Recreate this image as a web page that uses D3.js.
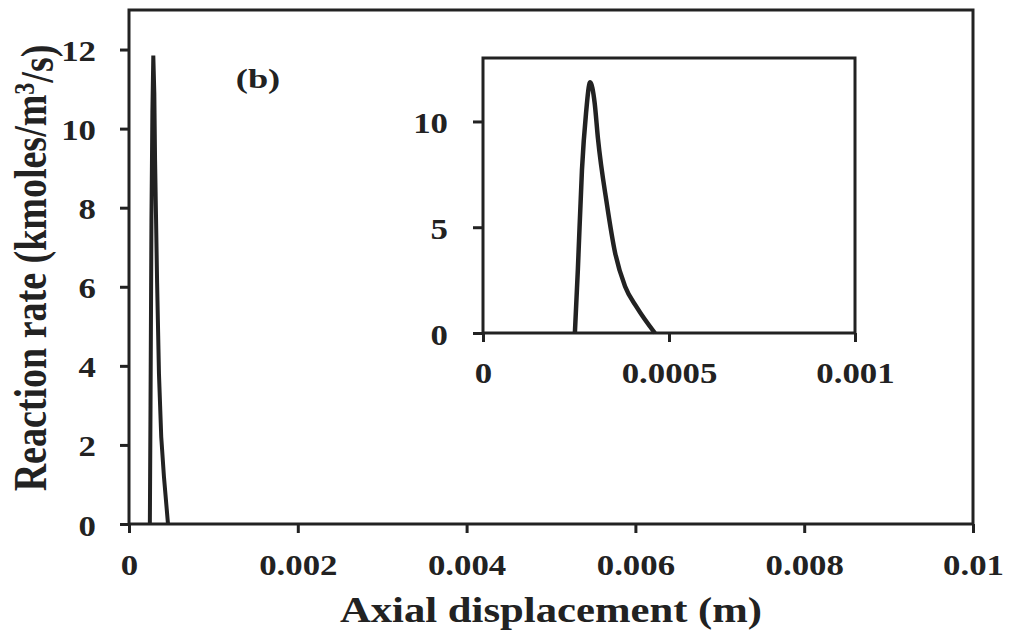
<!DOCTYPE html>
<html>
<head>
<meta charset="utf-8">
<script src="https://cdn.jsdelivr.net/npm/d3@7"></script>
<style>
  html, body { margin: 0; padding: 0; background: #fff; }
  svg { display: block; }
  text { font-family: "Liberation Serif", "Times New Roman", serif; font-weight: bold; fill: #222; }
</style>
</head>
<body>
<svg id="chart" width="1011" height="635"></svg>
<script>
// ---- data ----
const axialX = [0.000247, 0.000255, 0.000266, 0.000277, 0.000288, 0.000300, 0.000309, 0.000333, 0.000355, 0.000382, 0.000414, 0.000462];
const rateY  = [0,        3.0,      7.7,      10.4,     11.85,    10.9,     9.2,      6.1,      3.8,      2.2,      1.2,      0];
const mainXTicks = [0, 0.002, 0.004, 0.006, 0.008, 0.01];
const mainXTickLabels = ["0", "0.002", "0.004", "0.006", "0.008", "0.01"];
const mainYTicks = [0, 2, 4, 6, 8, 10, 12];
const insetXTicks = [0, 0.0005, 0.001];
const insetXTickLabels = ["0", "0.0005", "0.001"];
const insetYTicks = [0, 5, 10];

const points = axialX.map((x, i) => ({ x, y: rateY[i] }));
const ink = "#222";
const SX = 1.2; // horizontal stretch of the reference lettering

const svg = d3.select("#chart");

function styleAxis(g, kind, offset) {
  g.select(".domain").remove();
  g.selectAll(".tick line").attr("stroke", ink).attr("stroke-width", 3);
  g.selectAll(".tick text")
    .attr("fill", ink)
    .style("font-size", "29px")
    .attr("x", 0).attr("y", 0).attr("dy", kind === "y" ? "0.38em" : 0)
    .attr("text-anchor", kind === "y" ? "end" : "middle")
    .attr("transform", kind === "y" ? `translate(${-offset},0) scale(${SX},1)` : `translate(0,${offset}) scale(${SX},1)`);
}

// ---- main plot ----
const x = d3.scaleLinear().domain([0, 0.01]).range([129, 973]);
const y = d3.scaleLinear().domain([0, 13]).range([524, 10]);

svg.append("g").attr("transform", `translate(0,${y(0)})`)
  .call(d3.axisBottom(x).tickValues(mainXTicks).tickFormat((d, i) => mainXTickLabels[i]).tickSize(9).tickSizeOuter(0))
  .call(g => styleAxis(g, "x", 51));

svg.append("g").attr("transform", `translate(${x(0)},0)`)
  .call(d3.axisLeft(y).tickValues(mainYTicks).tickFormat(d3.format("d")).tickSize(9).tickSizeOuter(0))
  .call(g => styleAxis(g, "y", 33));

svg.append("rect")
  .attr("x", x(0)).attr("y", y(13))
  .attr("width", x(0.01) - x(0)).attr("height", y(0) - y(13))
  .attr("fill", "none").attr("stroke", ink).attr("stroke-width", 3);

svg.append("path").datum(points)
  .attr("fill", "none").attr("stroke", ink).attr("stroke-width", 4).attr("stroke-linejoin", "miter")
  .attr("d", d3.line().x(d => x(d.x)).y(d => y(d.y)));

svg.append("text")
  .attr("transform", `translate(258,88) scale(1.3,1)`)
  .attr("text-anchor", "middle").style("font-size", "28px")
  .text("(b)");

// axis titles
svg.append("text")
  .attr("transform", `translate(551,622) scale(1.22,1)`)
  .attr("text-anchor", "middle").style("font-size", "35px")
  .text("Axial displacement (m)");

const yt = svg.append("text")
  .attr("transform", `translate(46,268) scale(1.22,1) rotate(-90)`)
  .attr("text-anchor", "middle").style("font-size", "38px");
yt.append("tspan").text("Reaction rate (kmoles/m");
yt.append("tspan").attr("dy", "-0.4em").style("font-size", "24px").text("3");
yt.append("tspan").attr("dy", "0.4em").text("/s)");

// ---- inset ----
const xi = d3.scaleLinear().domain([0, 0.001]).range([483, 855]);
const yi = d3.scaleLinear().domain([0, 13]).range([333, 58]);

svg.append("rect")
  .attr("x", xi(0)).attr("y", yi(13))
  .attr("width", xi(0.001) - xi(0)).attr("height", yi(0) - yi(13))
  .attr("fill", "#fff").attr("stroke", "none");

svg.append("g").attr("transform", `translate(0,${yi(0)})`)
  .call(d3.axisBottom(xi).tickValues(insetXTicks).tickFormat((d, i) => insetXTickLabels[i]).tickSize(9).tickSizeOuter(0))
  .call(g => styleAxis(g, "x", 50));

svg.append("g").attr("transform", `translate(${xi(0)},0)`)
  .call(d3.axisLeft(yi).tickValues(insetYTicks).tickFormat(d3.format("d")).tickSize(10).tickSizeOuter(0))
  .call(g => styleAxis(g, "y", 35));

svg.append("rect")
  .attr("x", xi(0)).attr("y", yi(13))
  .attr("width", xi(0.001) - xi(0)).attr("height", yi(0) - yi(13))
  .attr("fill", "none").attr("stroke", ink).attr("stroke-width", 3);

svg.append("path").datum(points)
  .attr("fill", "none").attr("stroke", ink).attr("stroke-width", 4.5).attr("stroke-linejoin", "round")
  .attr("d", d3.line().curve(d3.curveMonotoneX).x(d => xi(d.x)).y(d => yi(d.y)));
</script>
</body>
</html>
